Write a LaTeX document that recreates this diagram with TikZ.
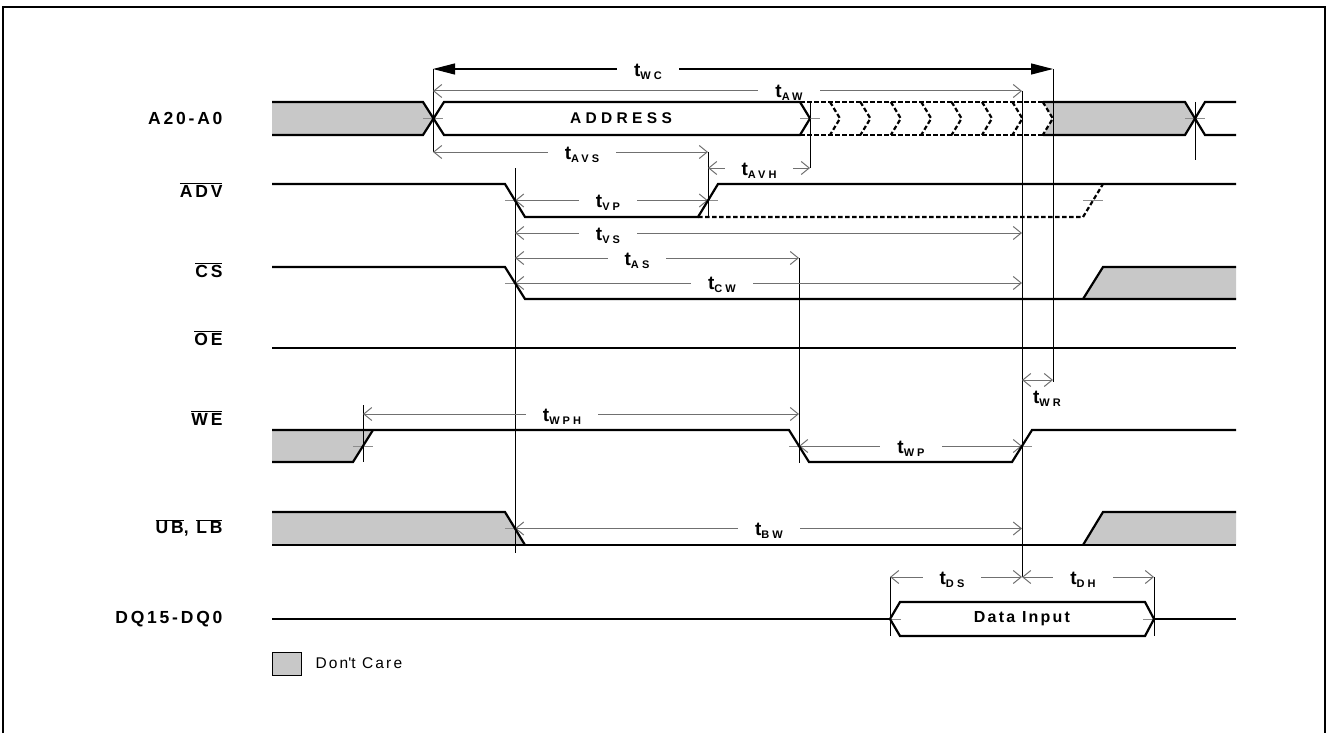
\documentclass[tikz,border=0pt]{standalone}
\usepackage{fontspec}
\setmainfont{Liberation Sans}
\newfontfamily\widesans[LetterSpace=28]{Liberation Sans}
\newfontfamily\labelsans[LetterSpace=16]{Liberation Sans}
\newfontfamily\midsans[LetterSpace=14]{Liberation Sans}
\usepackage{xcolor}
\definecolor{dontCare}{HTML}{C8C8C8}
\definecolor{dimGray}{HTML}{707070}
\definecolor{tickGray}{HTML}{8C8C8C}
\usepackage{tikz}
\usetikzlibrary{arrows.meta, calc}

\newcommand{\tparam}[1]{{\bfseries\fontsize{19}{19}\selectfont t}\raisebox{-3.5pt}{\widesans\bfseries\fontsize{11}{11}\selectfont #1}}
\newcommand{\sigbar}[1]{$\overline{\mbox{#1}}$}

\begin{document}
\begin{tikzpicture}[x=1pt, y=-1pt,
    wave/.style={line width=2.2pt},
    dotwave/.style={line width=2.2pt, dash pattern=on 4.5pt off 2.5pt},
    guide/.style={line width=1pt},
    tickmark/.style={draw=tickGray, line width=1pt},
    dimline/.style={draw=dimGray, line width=1pt, {Straight Barb[length=8pt, width=13pt]}-{Straight Barb[length=8pt, width=13pt]}},
    cycleline/.style={line width=1.2pt, {Triangle[length=22pt, width=11pt]}-{Triangle[length=22pt, width=11pt]}},
    tlabel/.style={fill=white, inner xsep=17pt, inner ysep=0pt},
    siglabel/.style={anchor=east, font=\labelsans\bfseries\fontsize{17.5}{17.5}\selectfont}]

  \useasboundingbox (0,0) rectangle (1329,733);
  \draw[line width=1.5pt] (3,733) -- (3,7) -- (1325,7) -- (1325,733);

  \node[siglabel] (lAddr) at (226,118) {A20-A0};
  \node[siglabel] (lAdv) at (226,190) {\sigbar{ADV}};
  \node[siglabel] (lCs) at (226,270) {\sigbar{CS}};
  \node[siglabel] (lOe) at (226,338) {\sigbar{OE}};
  \node[siglabel] (lWe) at (226,418) {\sigbar{WE}};
  \node[siglabel] (lBytes) at (226,528) {\sigbar{UB}, \sigbar{LB}};
  \node[siglabel] (lDq) at (226,619) {DQ15-DQ0};

  % don't care areas
  \fill[dontCare] (272,102) -- (423,102) -- (433,118.5) -- (423,135) -- (272,135) -- cycle;
  \fill[dontCare] (1043,102) -- (1185,102) -- (1195,118.5) -- (1185,135) -- (1043,135) -- (1053,118.5) -- cycle;
  \fill[dontCare] (1083,299) -- (1103,267) -- (1236,267) -- (1236,299) -- cycle;
  \fill[dontCare] (272,430) -- (373,430) -- (353,462) -- (272,462) -- cycle;
  \fill[dontCare] (272,512) -- (505,512) -- (525,545) -- (272,545) -- cycle;
  \fill[dontCare] (1083,545) -- (1103,512) -- (1236,512) -- (1236,545) -- cycle;

  \draw[guide] (433,69) -- (433,152)  (1053,69) -- (1053,382)  (1022,91) -- (1022,577)
               (708,152) -- (708,217)  (810,102) -- (810,168)  (515,168) -- (515,553)
               (799,258) -- (799,463)  (363,405) -- (363,462)  (890,577) -- (890,636)
               (1154,577) -- (1154,636)  (1195,102) -- (1195,160);
  \foreach \x/\y in {433/118.5, 810/118.5, 1195/118.5, 515/200.5, 708/200.5, 1093/200.5,
                     515/283, 363/446, 799/446, 1022/446, 515/528.5}
    \draw[tickmark] (\x-10,\y) -- (\x+10,\y);
  \draw[tickmark] (890,619) -- (901,619)  (1143,619) -- (1154,619);

  % timing parameters
  \draw[cycleline] (433,69) -- (1053,69);
  \draw[dimline] (433,91) -- (1022,91);
  \draw[dimline] (433,152) -- (708,152);
  \draw[dimline] (708,168) -- (810,168);
  \draw[dimline] (515,200.5) -- (708,200.5);
  \draw[dimline] (515,233) -- (1022,233);
  \draw[dimline] (515,258) -- (799,258);
  \draw[dimline] (515,283) -- (1022,283);
  \draw[dimline] (1022,380) -- (1053,380);
  \draw[dimline] (363,414) -- (799,414);
  \draw[dimline] (799,446) -- (1022,446);
  \draw[dimline] (515,528.5) -- (1022,528.5);
  \draw[dimline] (890,577) -- (1022,577);
  \draw[dimline] (1022,577) -- (1154,577);

  \node[tlabel] (tWC) at (648,72) {\tparam{WC}};
  \node[tlabel] (tAW) at (789,93) {\tparam{AW}};
  \node[tlabel] (tAVS) at (582,155) {\tparam{AVS}};
  \node[tlabel] (tAVH) at (759,171) {\tparam{AVH}};
  \node[tlabel] (tVP) at (608,203) {\tparam{VP}};
  \node[tlabel] (tVS) at (608,236) {\tparam{VS}};
  \node[tlabel] (tAS) at (637,261) {\tparam{AS}};
  \node[tlabel] (tCW) at (722,285) {\tparam{CW}};
  \node[inner sep=0pt] (tWR) at (1047,399) {\tparam{WR}};
  \node[tlabel] (tWPH) at (562,417) {\tparam{WPH}};
  \node[tlabel] (tWP) at (911,449) {\tparam{WP}};
  \node[tlabel] (tBW) at (769,531) {\tparam{BW}};
  \node[tlabel] (tDS) at (952,580) {\tparam{DS}};
  \node[tlabel] (tDH) at (1083,580) {\tparam{DH}};

  % waveforms
  \draw[wave] (272,102) -- (423,102) -- (444,135) -- (800,135) -- (810,118.5);
  \draw[wave] (272,135) -- (423,135) -- (444,102) -- (800,102) -- (810,118.5);
  \draw[dotwave] (800,102) -- (1043,102)  (800,135) -- (1043,135);
  \foreach \cx in {0,...,7}
    \draw[dotwave] ({830+30.4*\cx},102) -- ({840+30.4*\cx},118.5) -- ({830+30.4*\cx},135);
  \draw[wave] (1043,102) -- (1185,102) -- (1205,135) -- (1236,135);
  \draw[wave] (1043,135) -- (1185,135) -- (1205,102) -- (1236,102);
  \node[font=\widesans\bfseries\fontsize{15.5}{15.5}\selectfont] (addr) at (621,118.5) {ADDRESS};

  \draw[wave] (272,184) -- (505,184) -- (525,217) -- (698,217) -- (718,184) -- (1236,184);
  \draw[dotwave] (698,217) -- (1083,217) -- (1103,184);

  \draw[wave] (272,267) -- (505,267) -- (525,299) -- (1236,299);
  \draw[wave] (1083,299) -- (1103,267) -- (1236,267);

  \draw[wave] (272,348) -- (1236,348);

  \draw[wave] (272,462) -- (353,462) -- (373,430);
  \draw[wave] (272,430) -- (789,430) -- (809,462) -- (1012,462) -- (1032,430) -- (1236,430);

  \draw[wave] (272,512) -- (505,512) -- (525,545);
  \draw[wave] (272,545) -- (1236,545);
  \draw[wave] (1083,545) -- (1103,512) -- (1236,512);

  \draw[wave] (272,619) -- (890,619);
  \draw[wave] (890,619) -- (900,602) -- (1145,602) -- (1154,619) -- (1145,636) -- (900,636) -- cycle;
  \draw[wave] (1154,619) -- (1236,619);
  \node[font=\midsans\bfseries\fontsize{16}{16}\selectfont] (dataIn) at (1022,619) {Data Input};

  \node[draw, line width=1.6pt, fill=dontCare, minimum width=29pt, minimum height=23pt, inner sep=0pt] (dcBox) at (287,664) {};
  \node[anchor=west, font=\midsans\fontsize{15.5}{15.5}\selectfont] (dcText) at (312,663) {Don\textquotesingle t Care};
\end{tikzpicture}
\end{document}
